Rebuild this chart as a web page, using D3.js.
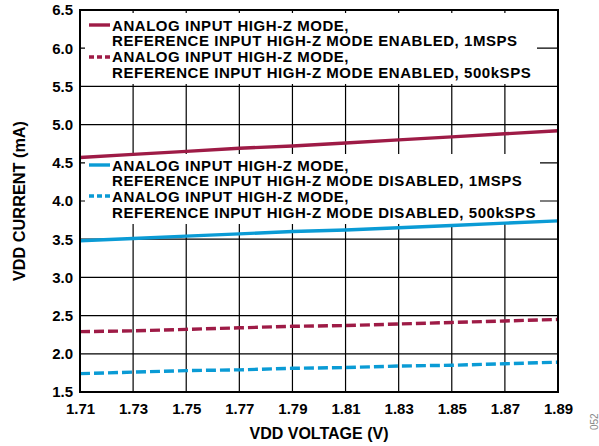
<!DOCTYPE html>
<html><head><meta charset="utf-8">
<script src="https://cdn.jsdelivr.net/npm/d3@7"></script>
<style>body{margin:0;background:#fff}text{font-family:"Liberation Sans",Arial,sans-serif;font-weight:bold}</style>
</head><body><svg id="c" width="599" height="446"></svg>
<script>
const xTicks = [1.71,1.73,1.75,1.77,1.79,1.81,1.83,1.85,1.87,1.89];
const yTicks = [1.5,2.0,2.5,3.0,3.5,4.0,4.5,5.0,5.5,6.0,6.5];
const voltage = [1.71,1.73,1.75,1.77,1.79,1.81,1.83,1.85,1.87,1.89];
const enabled1M   = [4.57,4.61,4.65,4.69,4.72,4.76,4.80,4.84,4.88,4.92];
const enabled500k = [2.29,2.30,2.32,2.34,2.36,2.37,2.39,2.41,2.43,2.45];
const disabled1M  = [3.48,3.51,3.54,3.57,3.60,3.62,3.65,3.68,3.71,3.74];
const disabled500k= [1.74,1.76,1.78,1.79,1.81,1.82,1.84,1.85,1.87,1.89];
const legend1 = ["ANALOG INPUT HIGH-Z MODE,","REFERENCE INPUT HIGH-Z MODE ENABLED, 1MSPS","ANALOG INPUT HIGH-Z MODE,","REFERENCE INPUT HIGH-Z MODE ENABLED, 500kSPS"];
const legend2 = ["ANALOG INPUT HIGH-Z MODE,","REFERENCE INPUT HIGH-Z MODE DISABLED, 1MSPS","ANALOG INPUT HIGH-Z MODE,","REFERENCE INPUT HIGH-Z MODE DISABLED, 500kSPS"];
const RED="#9e1b46", BLUE="#0a9bd5";

const svg=d3.select("#c");
const L=80,R=558,T=10,B=392;
const x=d3.scaleLinear().domain([1.71,1.89]).range([L,R]);
const y=d3.scaleLinear().domain([1.5,6.5]).range([B,T]);
const FF="'Liberation Sans',Arial,sans-serif";

// grid
const g=svg.append("g");
g.selectAll(".vg").data(xTicks).join("line").attr("x1",d=>x(d)).attr("x2",d=>x(d)).attr("y1",T).attr("y2",B).attr("stroke","#000").attr("stroke-width",1.2);
g.selectAll(".hg").data(yTicks).join("line").attr("y1",d=>y(d)).attr("y2",d=>y(d)).attr("x1",L).attr("x2",R).attr("stroke","#000").attr("stroke-width",1.2);

// axes labels
const xa=svg.append("g").attr("transform",`translate(0,${B})`).call(d3.axisBottom(x).tickValues(xTicks).tickFormat(d3.format(".2f")).tickSize(0).tickPadding(11));
xa.select(".domain").remove();
xa.selectAll("text").attr("font-size",15).attr("fill","#000").style("font-family",FF).style("font-weight","bold");
const ya=svg.append("g").attr("transform",`translate(${L},0)`).call(d3.axisLeft(y).tickValues(yTicks).tickFormat(d3.format(".1f")).tickSize(0).tickPadding(7));
ya.select(".domain").remove();
ya.selectAll("text").attr("font-size",15).attr("fill","#000").style("font-family",FF).style("font-weight","bold");

// legend boxes
svg.append("rect").attr("x",85).attr("y",13).attr("width",452).attr("height",71).attr("fill","#fff");
svg.append("rect").attr("x",85).attr("y",154).attr("width",455).attr("height",70).attr("fill","#fff");

// series
const line=d3.line().x((d,i)=>x(voltage[i])).y(d=>y(d));
const series=[[enabled1M,RED,null],[enabled500k,RED,"10,4"],[disabled1M,BLUE,null],[disabled500k,BLUE,"10,4"]];
series.forEach(([v,c,da])=>{
  svg.append("path").datum(v).attr("d",line).attr("fill","none").attr("stroke",c).attr("stroke-width",3.4).attr("stroke-dasharray",da);
});

// frame
svg.append("rect").attr("x",L).attr("y",T).attr("width",R-L).attr("height",B-T).attr("fill","none").attr("stroke","#000").attr("stroke-width",2);

// legend contents
function legend(lines,color,baselines,sampleY){
  lines.forEach((t,i)=>svg.append("text").attr("x",112).attr("y",baselines[i]).attr("font-size",15).attr("letter-spacing",0.55).attr("fill","#000").text(t));
  svg.append("line").attr("x1",89).attr("x2",110).attr("y1",sampleY[0]).attr("y2",sampleY[0]).attr("stroke",color).attr("stroke-width",3.4);
  svg.append("line").attr("x1",89).attr("x2",110).attr("y1",sampleY[1]).attr("y2",sampleY[1]).attr("stroke",color).attr("stroke-width",3.4).attr("stroke-dasharray","5,3");
}
legend(legend1,RED,[30.7,46.2,62.2,77.7],[25,57]);
legend(legend2,BLUE,[170.7,186.2,202.3,218.3],[165,196]);

// axis titles
svg.append("text").attr("x",(L+R)/2).attr("y",439).attr("text-anchor","middle").attr("font-size",16).text("VDD VOLTAGE (V)");
svg.append("text").attr("transform",`translate(25,${(T+B)/2}) rotate(-90)`).attr("text-anchor","middle").attr("font-size",16.3).text("VDD CURRENT (mA)");
svg.append("text").attr("transform","translate(598,430) rotate(-90)").attr("font-size",10).attr("fill","#888").style("font-weight","normal").text("052");
</script></body></html>
